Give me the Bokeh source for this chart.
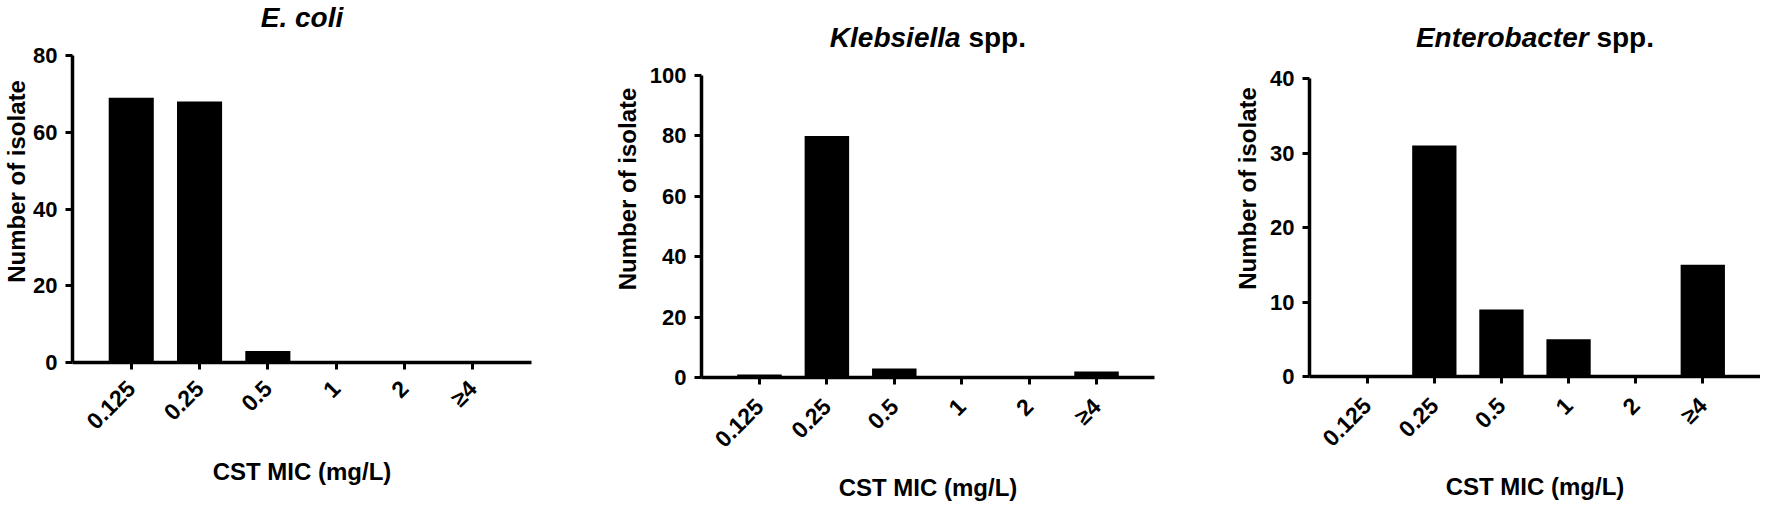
import math
from bokeh.plotting import figure
from bokeh.models import FactorRange, Range1d, SingleIntervalTicker
from bokeh.core.properties import value
from bokeh.layouts import row
from bokeh.embed import file_html
from bokeh.resources import INLINE

# ---------------- data ----------------
mic_labels = ["0.125", "0.25", "0.5", "1", "2", "≥4"]
ecoli_counts = [69, 68, 3, 0, 0, 0]
klebsiella_counts = [1, 80, 3, 0, 0, 2]
enterobacter_counts = [0, 31, 9, 5, 0, 15]
y_axis_max = [80, 100, 40]
y_tick_step = [20, 20, 10]
title_italic = ["E. coli", "Klebsiella", "Enterobacter"]
title_plain = ["", "spp.", "spp."]
x_title = "CST MIC (mg/L)"
y_title = "Number of isolate"

series = [ecoli_counts, klebsiella_counts, enterobacter_counts]

# ---------------- layout / style ----------------
FONT = "Liberation Sans"
FIG_H = 499
# frame_w, border_left, border_right, y(px) of axis top, y(px) of axis zero, title baseline y(px)
geom = [
    (459, 68, 73, 55, 362, 17),
    (453, 97, 65, 75, 377, 37),
    (451, 90, 0, 78, 376, 37),
]
ylabel_standoff = [0, 6, 6]
xlabel_standoff = [11, 9, 9]
xtick_standoff = [15, 18, 18]
# x offsets (px) of italic end / plain start relative to centre
title_offsets = [(0, 0), (32.6, 40.4), (53.6, 61.4)]

plots = []
for i in range(3):
    fw, bl, br, ptop, pbot, base = geom[i]
    ymax = y_axis_max[i]
    ppu = (pbot - ptop) / ymax          # pixels per data unit
    y_end = pbot / ppu                  # frame extends up to hold the title
    title_y = (pbot - base) / ppu

    p = figure(
        x_range=FactorRange(factors=mic_labels, range_padding=0.36,
                            range_padding_units="absolute"),
        y_range=Range1d(0, y_end),
        frame_width=fw, frame_height=pbot,
        min_border_left=bl, min_border_right=br,
        min_border_top=0, min_border_bottom=FIG_H - pbot,
        output_backend="svg", toolbar_location=None, title=None,
    )
    if "frame_align" in p.properties():
        p.frame_align = False

    p.vbar(x=mic_labels, top=series[i], width=0.66,
           fill_color="black", line_color=None)

    p.grid.visible = False
    p.outline_line_color = None
    p.background_fill_color = "white"
    p.border_fill_color = "white"

    for ax in (p.xaxis[0], p.yaxis[0]):
        ax.axis_line_width = 3.5
        ax.axis_line_color = "black"
        ax.major_tick_line_width = 3
        ax.major_tick_line_color = "black"
        ax.major_tick_in = 0
        ax.major_tick_out = 7
        ax.minor_tick_line_color = None
        ax.major_label_text_font = FONT
        ax.major_label_text_font_style = "bold"
        ax.major_label_text_color = "black"
        ax.axis_label_text_font = FONT
        ax.axis_label_text_font_style = "bold"
        ax.axis_label_text_font_size = "24px"
        ax.axis_label_text_color = "black"

    p.yaxis[0].major_label_text_font_size = "22px"
    p.xaxis[0].major_label_text_font_size = "23px"

    p.yaxis[0].ticker = SingleIntervalTicker(interval=y_tick_step[i], num_minor_ticks=0)
    p.yaxis[0].bounds = (0, ymax)
    p.yaxis[0].major_label_standoff = 8
    p.yaxis[0].axis_label = y_title
    p.yaxis[0].axis_label_standoff = ylabel_standoff[i]

    p.xaxis[0].major_label_orientation = math.pi / 4
    p.xaxis[0].major_label_standoff = xtick_standoff[i]
    p.xaxis[0].axis_label = x_title
    p.xaxis[0].axis_label_standoff = xlabel_standoff[i]

    # centre of the category axis: boundary between the two middle factors
    centre = [(mic_labels[len(mic_labels) // 2], -0.5)]
    if title_plain[i]:
        p.text(x=centre, y=[title_y], text=[title_italic[i]],
               x_offset=title_offsets[i][0],
               text_font=value(FONT), text_font_style="bold italic",
               text_font_size="28px", text_align="right",
               text_baseline="alphabetic", text_color="black")
        p.text(x=centre, y=[title_y], text=[title_plain[i]],
               x_offset=title_offsets[i][1],
               text_font=value(FONT), text_font_style="bold",
               text_font_size="28px", text_align="left",
               text_baseline="alphabetic", text_color="black")
    else:
        p.text(x=centre, y=[title_y], text=[title_italic[i]],
               text_font=value(FONT), text_font_style="bold italic",
               text_font_size="28px", text_align="center",
               text_baseline="alphabetic", text_color="black")
    plots.append(p)

layout = row(*plots)
open("out.html", "w").write(file_html(layout, INLINE))
